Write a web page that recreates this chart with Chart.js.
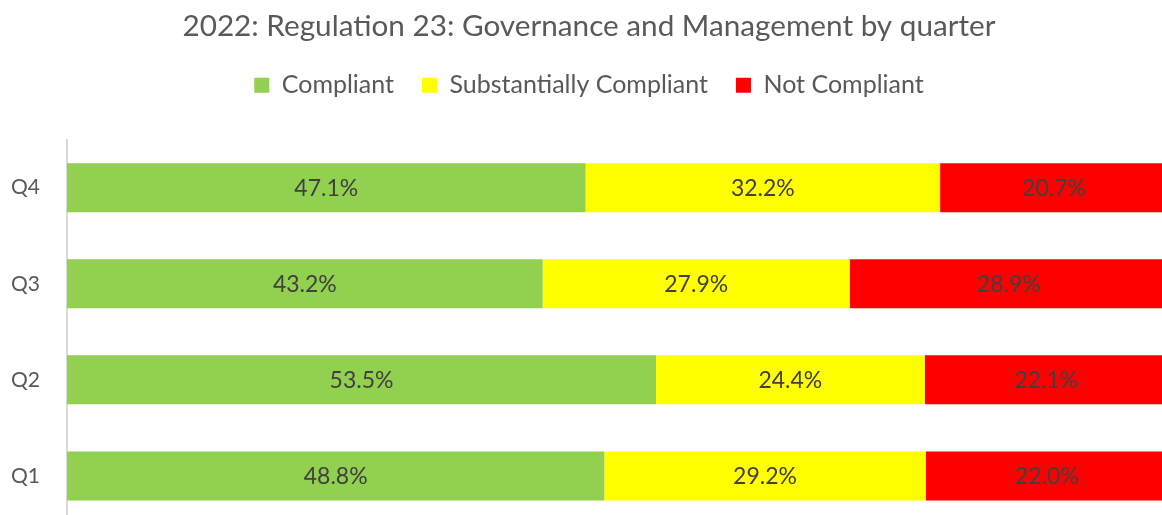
<!DOCTYPE html>
<html>
<head>
<meta charset="utf-8">
<script src="https://cdn.jsdelivr.net/npm/chart.js@4"></script>
<style>
  html,body{margin:0;padding:0;background:#fff;overflow:hidden}
  canvas{display:block}
</style>
</head>
<body>
<canvas id="c" width="1168" height="524"></canvas>
<script>
// quarters listed top to bottom
const quarters = ['Q4', 'Q3', 'Q2', 'Q1'];
const compliant = [47.1, 43.2, 53.5, 48.8];
const substantially = [32.2, 27.9, 24.4, 29.2];
const notCompliant = [20.7, 28.9, 22.1, 22.0];
const seriesNames = ['Compliant', 'Substantially Compliant', 'Not Compliant'];
const seriesColors = ['#92d050', '#ffff00', '#ff0000'];

const FONT = 'Lato, "Open Sans", sans-serif';

// write the value in the middle of each bar segment
const barLabels = {
  id: 'barLabels',
  afterDatasetsDraw(chart){
    const ctx = chart.ctx;
    ctx.save();
    ctx.font = '23px ' + FONT;
    ctx.fillStyle = '#404040';
    ctx.textAlign = 'center';
    ctx.textBaseline = 'middle';
    chart.data.datasets.forEach((ds, i)=>{
      chart.getDatasetMeta(i).data.forEach((bar, j)=>{
        const p = bar.getProps(['x','y','base'], true);
        ctx.fillText(ds.data[j].toFixed(1) + '%', (p.x + p.base)/2, p.y + 1);
      });
    });
    ctx.restore();
  }
};

new Chart(document.getElementById('c'), {
  type: 'bar',
  data: {
    labels: quarters,
    datasets: [
      {label: seriesNames[0], data: compliant, backgroundColor: seriesColors[0]},
      {label: seriesNames[1], data: substantially, backgroundColor: seriesColors[1]},
      {label: seriesNames[2], data: notCompliant, backgroundColor: seriesColors[2]}
    ]
  },
  options: {
    indexAxis: 'y',
    responsive: false,
    animation: false,
    datasets: {bar: {barPercentage: 0.51, categoryPercentage: 1}},
    layout: {padding: {left: 10, top: 0, right: 0, bottom: 0}},
    scales: {
      x: {
        stacked: true, min: 0, max: 100,
        position: 'top',
        grid: {display: false, drawTicks: false},
        border: {display: false},
        ticks: {display: false},
        // empty band between legend and plot
        afterFit(scale){ scale.height = 32; }
      },
      y: {
        stacked: true,
        grid: {display: false, drawTicks: false},
        border: {display: true, color: '#d9d9d9', width: 2},
        ticks: {color: '#595959', font: {family: FONT, size: 21}, padding: 27},
        afterFit(scale){
          scale.width = 57;
          // tick padding would otherwise push the plot in from top and bottom
          scale.paddingTop = 0;
          scale.paddingBottom = 0;
        }
      }
    },
    plugins: {
      title: {
        display: true,
        text: '2022: Regulation 23: Governance and Management by quarter',
        color: '#595959',
        font: {family: FONT, size: 29.7, weight: 'normal'},
        padding: {top: 9, bottom: 0}
      },
      legend: {
        position: 'top',
        labels: {
          color: '#595959',
          font: {family: FONT, size: 25},
          boxWidth: 15, boxHeight: 15,
          padding: 28
        }
      },
      tooltip: {enabled: false}
    }
  },
  plugins: [barLabels]
});
</script>
</body>
</html>
